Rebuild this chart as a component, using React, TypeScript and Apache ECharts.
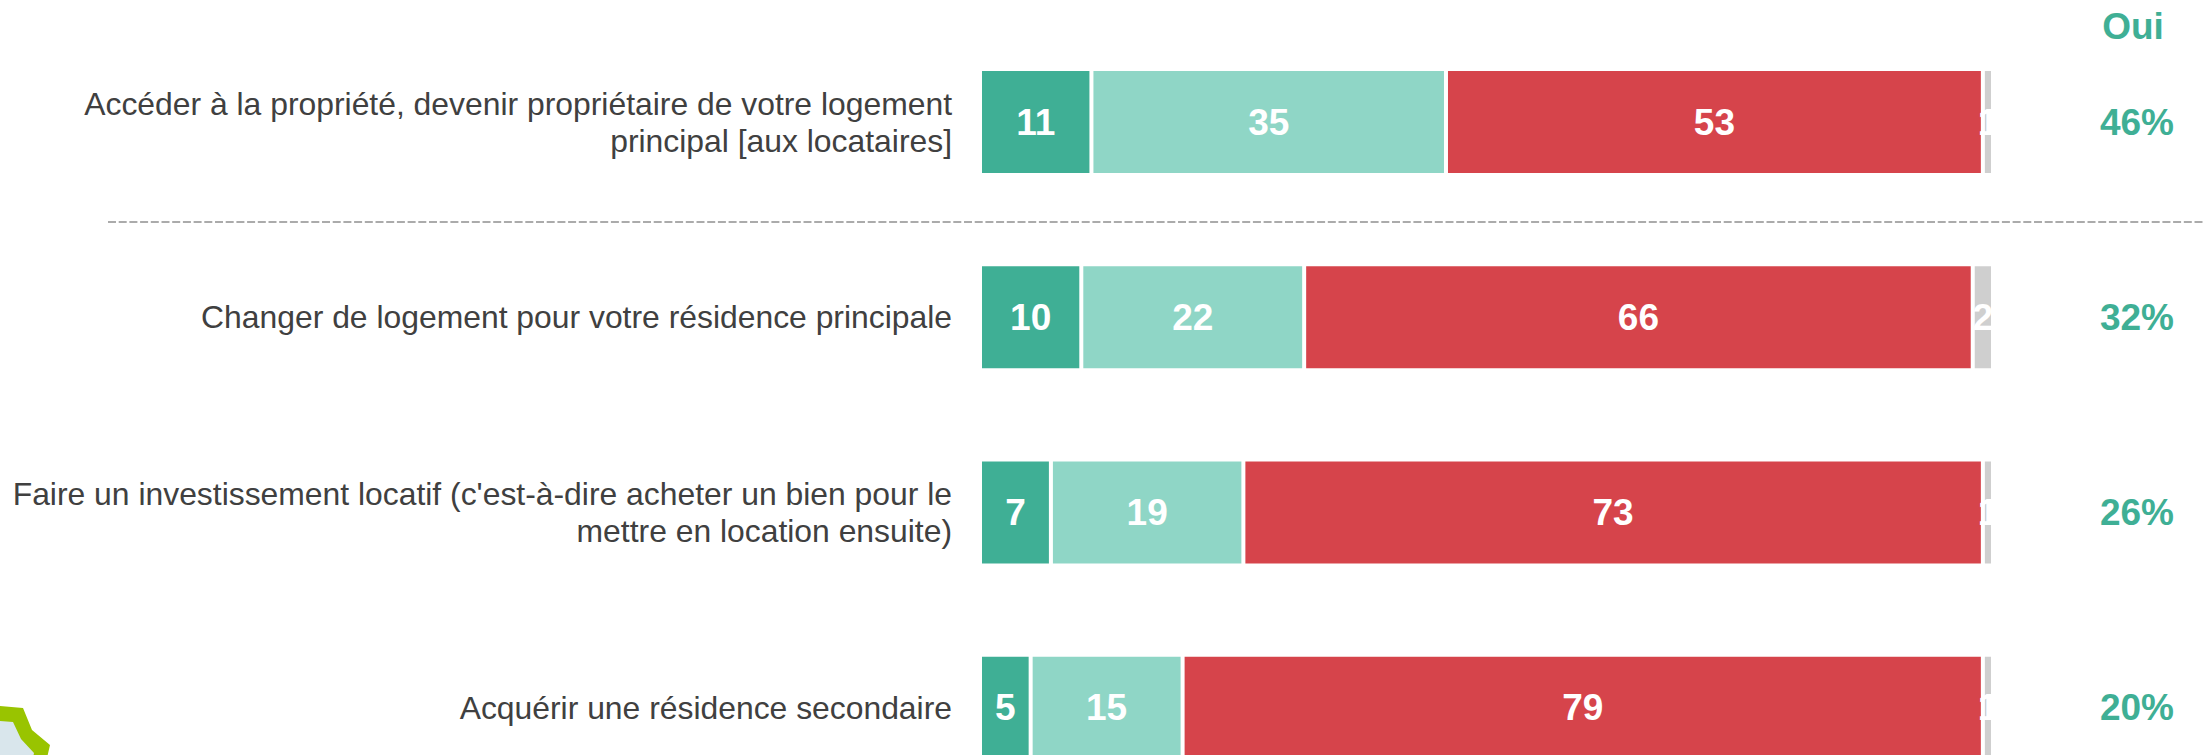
import React, { useEffect, useRef } from "react";
import * as echarts from "echarts";

const categories = [
  "Accéder à la propriété, devenir propriétaire de votre logement\nprincipal [aux locataires]",
  "Changer de logement pour votre résidence principale",
  "Faire un investissement locatif (c'est-à-dire acheter un bien pour le\nmettre en location ensuite)",
  "Acquérir une résidence secondaire",
];
const ouiConcerne = [11, 10, 7, 5];
const ouiPas = [35, 22, 19, 15];
const non = [53, 66, 73, 79];
const nsp = [1, 2, 1, 1];
const ouiTotals = ["46%", "32%", "26%", "20%"];
const ouiHeader = "Oui";
const colors = ["#3FAF95", "#8FD6C6", "#D6444B", "#CFCFCF"];
const FONT = "'Liberation Sans', Arial, sans-serif";

const mapOutline = [[0, 706], [23, 708], [32, 730], [50, 745], [47, 758], [0, 758]];
const mapInner = [[0, 721], [13, 722], [21, 739], [34, 753], [33, 758], [0, 758]];

export default function App() {
  const ref = useRef<HTMLDivElement>(null);
  useEffect(() => {
    const chart = echarts.init(ref.current!, undefined, { renderer: "svg" });
    const mk = (name: string, data: number[], i: number) => ({
      name,
      type: "bar",
      stack: "t",
      data,
      barWidth: 106,
      itemStyle: { color: colors[i], borderColor: "#fff", borderWidth: 2 },
      label: {
        show: true,
        position: "inside",
        color: "#fff",
        fontFamily: FONT,
        fontWeight: "bold",
        fontSize: 37,
      },
    });
    chart.setOption({
      animation: false,
      backgroundColor: "#fff",
      grid: { left: 980, width: 1013, top: 24.4, height: 781, outerBoundsMode: "none" },
      xAxis: { type: "value", min: 0, max: 100, show: false },
      yAxis: [
        {
          type: "category",
          inverse: true,
          data: categories,
          axisLine: { show: false },
          axisTick: { show: false },
          axisLabel: {
            margin: 28,
            align: "right",
            color: "#404040",
            fontFamily: FONT,
            fontSize: 31.87,
            lineHeight: 37,
          },
        },
        {
          type: "category",
          inverse: true,
          position: "right",
          data: ouiTotals,
          axisLine: { show: false },
          axisTick: { show: false },
          axisLabel: {
            margin: 144,
            align: "center",
            color: colors[0],
            fontFamily: FONT,
            fontWeight: "bold",
            fontSize: 37,
          },
        },
      ],
      series: [
        mk("Oui, concerné", ouiConcerne, 0),
        mk("Oui", ouiPas, 1),
        mk("Non", non, 2),
        mk("NSP", nsp, 3),
      ],
      graphic: [
        {
          type: "text",
          x: 2133,
          y: 26,
          style: {
            text: ouiHeader,
            fill: colors[0],
            font: `bold 37px ${FONT}`,
            align: "center",
            verticalAlign: "middle",
          },
        },
        {
          type: "line",
          shape: { x1: 108, y1: 222, x2: 2204, y2: 222 },
          style: { stroke: "#ABABAB", lineWidth: 2, lineDash: [8, 2.7] },
        },
        { type: "polygon", shape: { points: mapOutline }, style: { fill: "#99C400" } },
        { type: "polygon", shape: { points: mapInner }, style: { fill: "#D9E6EC" } },
      ],
    });
    return () => chart.dispose();
  }, []);
  return (
    <div
      ref={ref}
      style={{ position: "absolute", left: 0, top: 0, width: 2204, height: 755 }}
    />
  );
}
